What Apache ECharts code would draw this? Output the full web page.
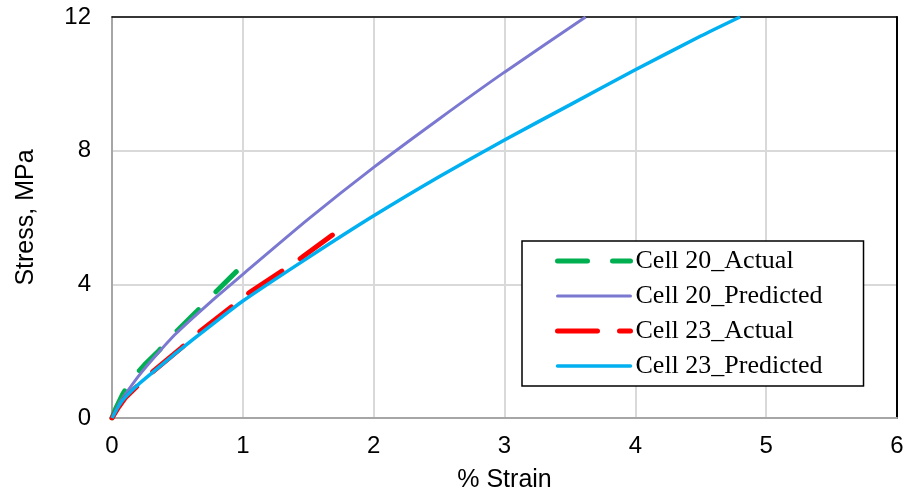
<!DOCTYPE html>
<html>
<head>
<meta charset="utf-8">
<script src="https://cdn.jsdelivr.net/npm/echarts@6/dist/echarts.min.js"></script>
<style>
    html, body { margin: 0; padding: 0; background: #fff; }
    #chart { width: 908px; height: 499px; }
</style>
</head>
<body>
<div id="chart"></div>
<script>
// values
var cell20ActualStrain = [0, 0.03, 0.08, 0.15, 0.25, 0.35, 0.5, 0.65, 0.8, 0.95];
var cell20ActualStress = [0, 0.3, 0.7, 1.15, 1.6, 1.98, 2.62, 3.2, 3.8, 4.38];

var cell20PredStrain = [0, 0.05, 0.1, 0.21, 0.33, 0.49, 0.8, 1, 1.5, 2, 2.5, 3, 3.62];
var cell20PredStress = [0, 0.4, 0.7, 1.29, 1.85, 2.53, 3.63, 4.3, 5.95, 7.5, 8.95, 10.35, 12];

var cell23ActualStrain = [0, 0.05, 0.1, 0.2, 0.31, 0.53, 0.66, 0.92, 1.05, 1.3, 1.45, 1.71];
var cell23ActualStress = [0, 0.32, 0.6, 0.98, 1.38, 2.1, 2.55, 3.35, 3.75, 4.4, 4.8, 5.55];

var cell23PredStrain = [0, 0.05, 0.1, 0.2, 0.3, 0.5, 0.75, 1, 1.5, 2, 2.5, 3, 3.5, 4, 4.5, 4.8];
var cell23PredStress = [0, 0.36, 0.62, 1.0, 1.33, 1.98, 2.75, 3.5, 4.8, 6.05, 7.22, 8.32, 9.37, 10.42, 11.43, 12];

var seriesNames = ['Cell 20_Actual', 'Cell 20_Predicted', 'Cell 23_Actual', 'Cell 23_Predicted'];
var seriesColors = ['#00b050', '#7b78d2', '#ff0000', '#00b0f0'];
var seriesLines = [
    { width: 5, type: [30, 25], cap: 'round' },
    { width: 3, type: 'solid' },
    { width: 5, type: [40, 22], cap: 'round' },
    { width: 3.5, type: 'solid' }
];

function pairs(xs, ys) {
    return xs.map(function (x, i) { return [x, ys[i]]; });
}

var myChart = echarts.init(document.getElementById('chart'));

var option = {
    animation: false,
    grid: {
        left: 112,
        right: 11,
        top: 17,
        bottom: 81
    },
    legend: {
        orient: 'vertical',
        left: 522,
        top: 241,
        padding: [5, 41, 5, 33],
        backgroundColor: '#fff',
        borderColor: '#000',
        borderWidth: 1.5,
        itemWidth: 73,
        itemHeight: 30,
        itemGap: 5,
        itemStyle: { opacity: 0 },
        textStyle: {
            fontFamily: 'Liberation Serif',
            fontSize: 26,
            color: '#000',
            lineHeight: 30
        },
        data: seriesNames.map(function (n, i) {
            return {
                name: n,
                itemStyle: { opacity: 0 },
                lineStyle: { color: seriesColors[i], width: seriesLines[i].width, type: seriesLines[i].type, cap: 'round' }
            };
        })
    },
    xAxis: [
        {
            type: 'value',
            min: 0,
            max: 6,
            interval: 1,
            name: '% Strain',
            nameLocation: 'middle',
            nameGap: 50,
            nameTextStyle: { fontFamily: 'Liberation Sans', fontSize: 25, color: '#000' },
            axisLine: { lineStyle: { color: '#a6a6a6', width: 2 } },
            axisTick: { show: false },
            axisLabel: { fontFamily: 'Liberation Sans', fontSize: 24, color: '#000', margin: 16 },
            splitLine: { lineStyle: { color: '#d9d9d9', width: 2 } }
        },
        {
            type: 'value',
            position: 'top',
            min: 0,
            max: 6,
            axisLine: { show: true, onZero: false, lineStyle: { color: '#000', width: 1.5 } },
            axisTick: { show: false },
            axisLabel: { show: false },
            splitLine: { show: false }
        }
    ],
    yAxis: [
        {
            type: 'value',
            min: 0,
            max: 12,
            interval: 4,
            name: 'Stress, MPa',
            nameLocation: 'middle',
            nameGap: 73,
            nameTextStyle: { fontFamily: 'Liberation Sans', fontSize: 25, color: '#000' },
            axisLine: { show: true, lineStyle: { color: '#a6a6a6', width: 2 } },
            axisTick: { show: false },
            axisLabel: { fontFamily: 'Liberation Sans', fontSize: 24, color: '#000', margin: 21 },
            splitLine: { lineStyle: { color: '#d9d9d9', width: 2 } }
        },
        {
            type: 'value',
            position: 'right',
            min: 0,
            max: 12,
            axisLine: { show: true, onZero: false, lineStyle: { color: '#000', width: 2 } },
            axisTick: { show: false },
            axisLabel: { show: false },
            splitLine: { show: false }
        }
    ],
    series: [
        {
            name: seriesNames[0],
            type: 'line',
            symbol: 'none',
            color: seriesColors[0],
            lineStyle: seriesLines[0],
            data: pairs(cell20ActualStrain, cell20ActualStress)
        },
        {
            name: seriesNames[1],
            type: 'line',
            symbol: 'none',
            smooth: 0.2,
            color: seriesColors[1],
            lineStyle: seriesLines[1],
            data: pairs(cell20PredStrain, cell20PredStress)
        },
        {
            name: seriesNames[2],
            type: 'line',
            symbol: 'none',
            color: seriesColors[2],
            lineStyle: seriesLines[2],
            data: pairs(cell23ActualStrain, cell23ActualStress)
        },
        {
            name: seriesNames[3],
            type: 'line',
            symbol: 'none',
            smooth: 0.2,
            color: seriesColors[3],
            lineStyle: seriesLines[3],
            data: pairs(cell23PredStrain, cell23PredStress)
        }
    ]
};
myChart.setOption(option);
</script>
</body>
</html>
